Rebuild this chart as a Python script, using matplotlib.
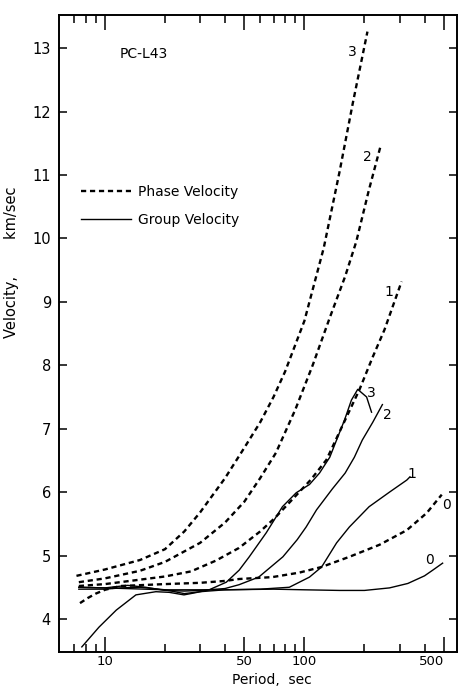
import matplotlib
matplotlib.use("Agg")
import matplotlib.pyplot as plt
from matplotlib.ticker import FixedLocator, NullFormatter

# Phase velocity curves (period in sec, velocity in km/sec)
phase0_T = [7.5, 8.2, 9, 10, 12, 20, 30, 40, 47, 69, 94, 122, 168, 238, 326, 410, 488]
phase0_V = [4.25, 4.33, 4.40, 4.46, 4.52, 4.55, 4.57, 4.60, 4.63, 4.66, 4.73, 4.82, 4.98, 5.17, 5.40, 5.67, 5.96]
phase1_T = [7.4, 10, 15, 20, 27, 36, 47, 60, 71, 91, 108, 129, 150, 189, 220, 252, 307]
phase1_V = [4.52, 4.55, 4.62, 4.67, 4.75, 4.92, 5.12, 5.38, 5.59, 5.95, 6.20, 6.51, 6.95, 7.62, 8.13, 8.56, 9.32]
phase2_T = [7.4, 10, 15, 20, 30, 40, 50, 60, 72, 90, 110, 134, 160, 182, 210, 242]
phase2_V = [4.58, 4.64, 4.76, 4.90, 5.20, 5.52, 5.85, 6.22, 6.62, 7.30, 8.00, 8.75, 9.40, 9.95, 10.75, 11.48]
phase3_T = [7.2, 10, 15, 20, 25, 30, 40, 50, 60, 70, 80, 100, 125, 150, 175, 207]
phase3_V = [4.68, 4.78, 4.93, 5.10, 5.38, 5.68, 6.22, 6.70, 7.10, 7.50, 7.90, 8.70, 9.85, 11.05, 12.14, 13.26]

# Group velocity curves
group0_T = [7.4, 10, 20, 40, 70, 100, 150, 200, 267, 330, 400, 440, 493]
group0_V = [4.50, 4.49, 4.46, 4.46, 4.47, 4.46, 4.45, 4.45, 4.49, 4.56, 4.68, 4.77, 4.88]
group1_T = [7.4, 10, 12, 15, 20, 25, 30, 40, 60, 84, 106, 122, 145, 168, 211, 267, 326, 338]
group1_V = [4.47, 4.47, 4.49, 4.50, 4.46, 4.40, 4.43, 4.46, 4.47, 4.50, 4.66, 4.82, 5.20, 5.45, 5.77, 6.00, 6.19, 6.24]
group2_T = [7.4, 10, 13, 16, 20, 25, 30, 40, 47, 59, 78, 92, 102, 115, 138, 160, 178, 195, 220, 246]
group2_V = [4.50, 4.49, 4.53, 4.50, 4.45, 4.44, 4.45, 4.48, 4.54, 4.66, 4.98, 5.25, 5.45, 5.72, 6.05, 6.30, 6.55, 6.82, 7.10, 7.38]
group3_T = [7.66, 9.33, 11.4, 14.3, 18, 21, 24.9, 28, 33.3, 40.6, 47.1, 52.9, 64.4, 77.6, 91, 106, 119, 134, 159, 172, 185, 205, 217]
group3_V = [3.56, 3.87, 4.14, 4.38, 4.43, 4.42, 4.38, 4.41, 4.46, 4.58, 4.77, 4.98, 5.36, 5.77, 5.99, 6.12, 6.30, 6.55, 7.14, 7.45, 7.62, 7.50, 7.26]

# mode labels: (text, period, velocity)
phase_labels = [("0", 518, 5.80), ("1", 264, 9.16), ("2", 207, 11.29), ("3", 174, 12.94)]
group_labels = [("0", 425, 4.93), ("1", 345, 6.29), ("2", 261, 7.22), ("3", 217, 7.56)]

major_ticks = [10, 50, 100, 500]
minor_ticks = [7, 8, 9, 20, 30, 40, 60, 70, 80, 90, 200, 300, 400]
y_ticks = list(range(4, 14))

fig = plt.figure(figsize=(4.59, 6.87), dpi=100)
ax = fig.add_axes([0.129, 0.051, 0.866, 0.927])

dash = dict(color="black", lw=1.7, dashes=(2.2, 1.6))
solid = dict(color="black", lw=1.0)

phases = [(phase0_T, phase0_V), (phase1_T, phase1_V), (phase2_T, phase2_V), (phase3_T, phase3_V)]
groups = [(group0_T, group0_V), (group1_T, group1_V), (group2_T, group2_V), (group3_T, group3_V)]
for i, (t, v) in enumerate(phases):
    ax.plot(t, v, label="Phase Velocity" if i == 0 else None, **dash)
for i, (t, v) in enumerate(groups):
    ax.plot(t, v, label="Group Velocity" if i == 0 else None, **solid)

for txt, t, v in phase_labels + group_labels:
    ax.text(t, v, txt, fontsize=10, ha="center", va="center")

ax.text(11.8, 12.9, "PC-L43", fontsize=10, ha="left", va="center")

ax.set_xscale("log")
ax.set_xlim(5.9, 580)
ax.set_ylim(3.48, 13.52)

ax.xaxis.set_major_locator(FixedLocator(major_ticks))
ax.xaxis.set_minor_locator(FixedLocator(minor_ticks))
ax.set_xticklabels([str(t) for t in major_ticks])
ax.xaxis.set_minor_formatter(NullFormatter())
ax.set_yticks(y_ticks)
ax.tick_params(which="major", axis="x", direction="in", length=11, width=1.1,
               top=True, labelsize=9.5, pad=2.5)
ax.tick_params(which="minor", axis="x", direction="in", length=6, width=1.1, top=True)
ax.tick_params(axis="y", direction="in", length=6, width=1.1, right=True,
               labelsize=10.5, pad=6)
for s in ax.spines.values():
    s.set_linewidth(1.4)
# the last label sits a little left of its tick, as in the original
ax.get_xticklabels()[-1].set_horizontalalignment("right")
ax.get_xticklabels()[-1].set_x(560)

ax.set_xlabel("Period,  sec", fontsize=10)
ax.xaxis.set_label_coords(0.534, -0.033)
ax.set_ylabel("Velocity,        km/sec", fontsize=10.5)
ax.yaxis.set_label_coords(-0.10, 0.612)

ax.legend(loc="center left", bbox_to_anchor=(0.055, 0.70), frameon=False,
          fontsize=10, handlelength=3.6, handletextpad=0.5, labelspacing=1.0,
          borderpad=0, borderaxespad=0)

fig.savefig("out.png", dpi=100)
